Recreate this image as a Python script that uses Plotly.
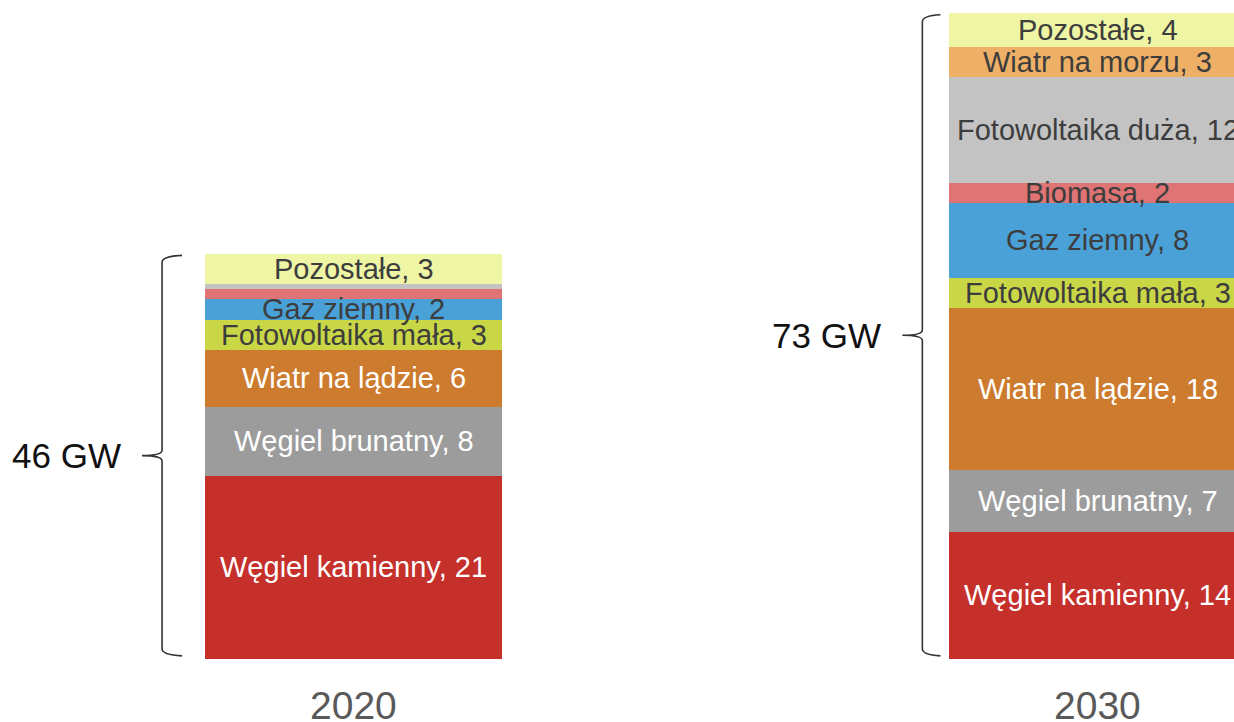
import plotly.graph_objects as go

# Installed capacity by source (GW), bottom to top of each stacked bar
years = ["2020", "2030"]
sources = [
    "Węgiel kamienny",
    "Węgiel brunatny",
    "Wiatr na lądzie",
    "Fotowoltaika mała",
    "Gaz ziemny",
    "Biomasa",
    "Fotowoltaika duża",
    "Wiatr na morzu",
    "Pozostałe",
]
cap_2020 = [20.7, 7.8, 6.4, 3.4, 2.4, 1.1, 0.6, 0.0, 3.4]
cap_2030 = [14.4, 7.0, 18.3, 3.4, 8.4, 2.3, 12.0, 3.3, 3.9]

colors = [
    "#C5302B",  # Węgiel kamienny
    "#9C9C9C",  # Węgiel brunatny
    "#CD7B2E",  # Wiatr na lądzie
    "#C9D646",  # Fotowoltaika mała
    "#4AA1D7",  # Gaz ziemny
    "#E07474",  # Biomasa
    "#C3C3C3",  # Fotowoltaika duża
    "#EEB067",  # Wiatr na morzu
    "#EEF5A5",  # Pozostałe
]
white_text = {"Węgiel kamienny", "Węgiel brunatny", "Wiatr na lądzie"}

FONT = "Liberation Sans, Arial, Helvetica, sans-serif"
BAR_W = 0.399
xpos = [0, 1]
series = [cap_2020, cap_2030]

fig = go.Figure()
for i, name in enumerate(sources):
    fig.add_trace(go.Bar(
        x=xpos,
        y=[cap_2020[i], cap_2030[i]],
        width=BAR_W,
        name=name,
        marker=dict(color=colors[i], line=dict(width=0)),
        hoverinfo="skip",
    ))

annotations = []
shapes = []

# Segment labels, centred in each block
for xi, vals in zip(xpos, series):
    base = 0.0
    for name, v in zip(sources, vals):
        if v >= 2:
            annotations.append(dict(
                x=xi, y=base + v / 2, xref="x", yref="y",
                text=f"{name}, {round(v)}",
                showarrow=False, xanchor="center", yanchor="middle",
                font=dict(family=FONT, size=29,
                          color="white" if name in white_text else "#3d3d3d"),
            ))
        base += v

# Curly braces with totals on the left of each bar
brace_geom = [
    # (vertical offset, arm end offset, tip offset) relative to bar centre
    (-0.2574, -0.2305, -0.2843),
    (-0.2359, -0.2117, -0.2628),
]
r = 0.6
for xi, vals, (dv, da, dt) in zip(xpos, series, brace_geom):
    total = sum(vals)
    xv, xa, xt = xi + dv, xi + da, xi + dt
    yt, yb = total - 0.4, 0.55
    ym = (yt + yb) / 2
    path = (
        f"M {xa},{yt + 0.2} Q {xv},{yt + 0.1} {xv},{yt - r} "
        f"L {xv},{ym + r} Q {xv},{ym} {xt},{ym} "
        f"Q {xv},{ym} {xv},{ym - r} "
        f"L {xv},{yb + r} Q {xv},{yb - 0.1} {xa},{yb - 0.2}"
    )
    shapes.append(dict(type="path", path=path, xref="x", yref="y",
                       line=dict(color="#333333", width=1.6)))
    annotations.append(dict(
        x=xt - 0.026, y=ym, xref="x", yref="y",
        text=f"{round(total)} GW", showarrow=False,
        xanchor="right", yanchor="middle",
        font=dict(family=FONT, size=35, color="#111111"),
    ))

# Year labels beneath the bars
for xi, yr in zip(xpos, years):
    annotations.append(dict(
        x=xi, y=-5.2, xref="x", yref="y", text=yr, showarrow=False,
        xanchor="center", yanchor="middle",
        font=dict(family=FONT, size=39, color="#595959"),
    ))

fig.update_layout(
    width=1234, height=722,
    margin=dict(l=0, r=0, t=0, b=0),
    barmode="stack",
    bargap=0,
    showlegend=False,
    paper_bgcolor="white",
    plot_bgcolor="white",
    xaxis=dict(range=[-0.4751, 1.1828], visible=False, fixedrange=True),
    yaxis=dict(range=[-7.12, 74.46], visible=False, fixedrange=True),
    annotations=annotations,
    shapes=shapes,
    hovermode=False,
)

fig.write_html("out.html", config={"displayModeBar": False})
